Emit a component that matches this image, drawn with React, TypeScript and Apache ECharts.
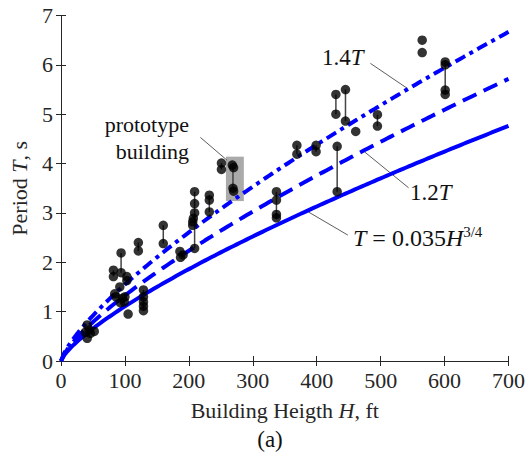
import React, { useEffect, useRef } from "react";
import * as echarts from "echarts";

// Measured building periods [height H (ft), period T (s)]
const measuredPoints: number[][] = [
  [41, 0.73], [44, 0.63], [46, 0.56], [41, 0.46], [52, 0.6], [38, 0.58],
  [82, 1.84], [82, 1.71], [84, 1.36], [86, 1.3], [94, 2.19], [94, 1.79], [92, 1.5],
  [96, 1.27], [93, 1.18], [99, 1.2], [100, 1.3], [103, 1.71], [103, 1.63], [105, 0.95],
  [121, 2.4], [121, 2.23],
  [129, 1.44], [129, 1.3], [129, 1.2], [129, 1.11], [129, 1.02],
  [160, 2.75], [160, 2.38],
  [186, 2.22], [187, 2.1], [191, 2.15],
  [209, 3.43], [209, 3.19], [209, 3.0], [207, 2.89], [206, 2.82], [206, 2.75], [209, 2.28],
  [232, 3.36], [232, 3.26], [232, 3.02],
  [251, 4.01], [251, 3.88],
  [268, 3.97], [270, 3.92], [269, 3.5], [270, 3.44],
  [337, 3.43], [337, 3.26], [337, 2.97], [337, 2.9],
  [369, 4.37], [369, 4.19],
  [399, 4.37], [399, 4.24],
  [430, 5.4], [430, 5.0],
  [432, 4.35], [432, 3.43],
  [445, 5.5], [445, 4.86],
  [461, 4.65],
  [495, 4.99], [495, 4.76],
  [565, 6.5], [565, 6.25],
  [601, 6.06], [601, 6.0], [601, 5.49], [601, 5.4],
];

// Vertical range bars [H, Tmin, Tmax]
const rangeBars: number[][] = [
  [82, 1.71, 1.84], [94, 1.79, 2.19], [121, 2.23, 2.4], [129, 1.02, 1.44],
  [160, 2.38, 2.75], [209, 2.28, 3.43], [232, 3.02, 3.36], [251, 3.88, 4.01],
  [269, 3.47, 3.95], [337, 2.9, 3.43], [369, 4.19, 4.37], [399, 4.24, 4.37],
  [430, 5.0, 5.4], [432, 3.43, 4.35], [445, 4.86, 5.5], [495, 4.76, 4.99],
  [601, 5.4, 6.06],
];

// Code formula T = Ct * H^x and its multipliers
const codeCt = 0.035;
const codeExp = 0.75;
const multipliers = [1.0, 1.2, 1.4];
const heightSamples: number[] = [];
for (let h = 0; h <= 700; h += 5) heightSamples.push(h);

const xTicks = { min: 0, max: 700, interval: 100 };
const yTicks = { min: 0, max: 7, interval: 1 };

// Prototype building highlight [H0, T0, H1, T1]
const prototypeBox = [258, 3.24, 286, 4.14];

// Leader lines [[H0,T0],[H1,T1]]
const leaders: number[][][] = [
  [[484, 6.03], [541, 5.53]],
  [[474.5, 4.24], [543.7, 3.51]],
  [[387, 3.02], [448.8, 2.55]],
  [[218, 4.53], [259.5, 4.07]],
];

const FONT = '"Liberation Serif", "Times New Roman", serif';
const AX = "#262626";

export default function App() {
  const ref = useRef<HTMLDivElement>(null);
  useEffect(() => {
    document.body.style.margin = "0";
    if (!ref.current) return;
    const chart = echarts.init(ref.current, undefined, { renderer: "svg" });
    const curveStyles: any[] = [
      { type: "solid" },
      { type: [15, 8] },
      { type: [11, 5, 4, 5] },
    ];
    const curveSeries = multipliers.map((m, i) => ({
      type: "line",
      data: heightSamples.map((h) => [h, m * codeCt * Math.pow(h, codeExp)]),
      showSymbol: false,
      symbol: "none",
      lineStyle: { color: "#0000ff", width: 4, ...curveStyles[i], cap: "butt" },
      z: 3,
      silent: true,
    }));
    const barSeries = rangeBars.map((b) => ({
      type: "line",
      data: [[b[0], b[1]], [b[0], b[2]]],
      symbol: "none",
      lineStyle: { color: "#444", width: 1.5 },
      z: 2,
      silent: true,
    }));
    const leaderSeries = leaders.map((l) => ({
      type: "line",
      data: l,
      symbol: "none",
      lineStyle: { color: "#333", width: 0.8 },
      z: 2,
      silent: true,
    }));
    const axisCommon = {
      axisLine: { show: true, lineStyle: { color: AX, width: 1 } },
      axisTick: { show: true, inside: true, length: 5, lineStyle: { color: AX } },
      splitLine: { show: false },
    };
    const italic = { fontStyle: "italic", fontFamily: FONT, fontSize: 22, color: AX };
    chart.setOption({
      animation: false,
      grid: { left: 53, right: 19, top: 15.5, bottom: 98, containLabel: false },
      xAxis: [
        {
          type: "value",
          ...xTicks,
          ...axisCommon,
          axisLabel: { color: AX, fontFamily: FONT, fontSize: 22, margin: 8 },
          name: "Building Heigth {i|H}, ft",
          nameLocation: "middle",
          nameGap: 38,
          nameTextStyle: {
            color: AX, fontFamily: FONT, fontSize: 22,
            rich: { i: italic },
          },
        },
        {
          type: "value", position: "top", ...xTicks, ...axisCommon,
          axisLabel: { show: false },
        },
      ],
      yAxis: [
        {
          type: "value",
          ...yTicks,
          ...axisCommon,
          axisLabel: { color: AX, fontFamily: FONT, fontSize: 22, margin: 8 },
          name: "Period {i|T}, s",
          nameLocation: "middle",
          nameGap: 31,
          nameTextStyle: {
            color: AX, fontFamily: FONT, fontSize: 22,
            rich: { i: italic },
          },
        },
        {
          type: "value", position: "right", ...yTicks, ...axisCommon,
          axisLabel: { show: false },
        },
      ],
      series: [
        ...curveSeries,
        ...barSeries,
        ...leaderSeries,
        {
          type: "scatter",
          data: measuredPoints,
          symbol: "circle",
          symbolSize: 9.5,
          itemStyle: { color: "#000" },
          z: 4,
          silent: true,
        },
        {
          type: "line",
          data: [],
          z: 6,
          silent: true,
          markArea: {
            silent: true,
            itemStyle: { color: "rgba(105,105,105,0.57)" },
            data: [[
              { coord: [prototypeBox[0], prototypeBox[1]] },
              { coord: [prototypeBox[2], prototypeBox[3]] },
            ]],
          },
        },
      ],
      graphic: [
        {
          type: "text", x: 189, y: 111, z: 10,
          style: {
            text: "prototype\nbuilding", align: "right", fontFamily: FONT, fontSize: 22,
            lineHeight: 27, fill: "#111",
          },
        },
        {
          type: "text", x: 322, y: 46, z: 10,
          style: {
            text: "1.4{i|T}", fontFamily: FONT, fontSize: 23, fill: "#111",
            rich: { i: { fontStyle: "italic", fontFamily: FONT, fontSize: 23, fill: "#111" } },
          },
        },
        {
          type: "text", x: 410, y: 181, z: 10,
          style: {
            text: "1.2{i|T}", fontFamily: FONT, fontSize: 23, fill: "#111",
            rich: { i: { fontStyle: "italic", fontFamily: FONT, fontSize: 23, fill: "#111" } },
          },
        },
        {
          type: "text", x: 353, y: 224, z: 10,
          style: {
            text: "{i|T} = 0.035{i|H}{s|3/4}", fontFamily: FONT, fontSize: 24, fill: "#111",
            rich: {
              i: { fontStyle: "italic", fontFamily: FONT, fontSize: 24, fill: "#111" },
              s: { fontFamily: FONT, fontSize: 15, fill: "#111", verticalAlign: "top", padding: [0, 0, 12, 0] },
            },
          },
        },
        {
          type: "text", x: 270, y: 428, z: 10,
          style: { text: "(a)", align: "center", fontFamily: FONT, fontSize: 23, fill: "#111" },
        },
      ],
    });
    return () => chart.dispose();
  }, []);
  return <div ref={ref} style={{ width: 528, height: 459 }} />;
}
